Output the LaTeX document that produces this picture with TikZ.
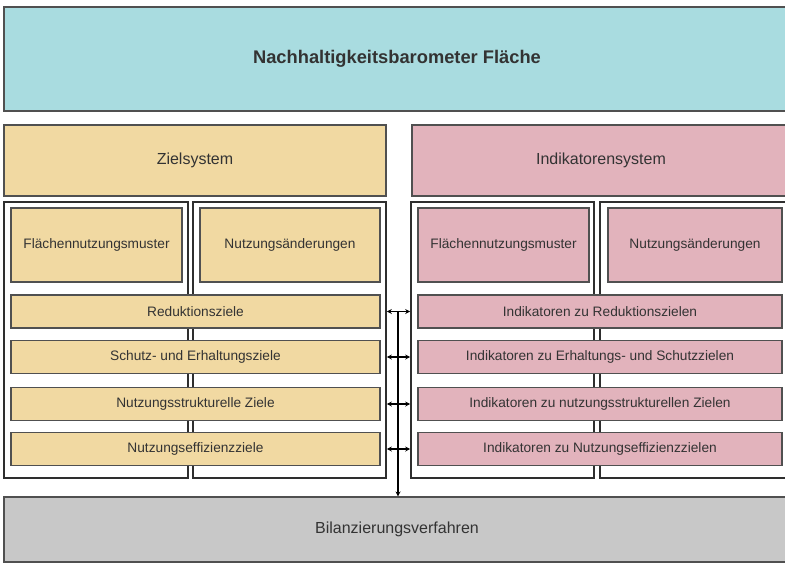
\documentclass[tikz,border=0pt]{standalone}
\usepackage{fontspec}
\setmainfont{Liberation Sans}
\usetikzlibrary{arrows.meta}
\definecolor{cyanbg}{HTML}{A9DCE0}
\definecolor{tanbg}{HTML}{F1D9A2}
\definecolor{pinkbg}{HTML}{E2B3BC}
\definecolor{graybg}{HTML}{C8C8C8}
\definecolor{edge}{HTML}{505050}
\definecolor{frameline}{HTML}{2E2E2E}
\definecolor{txt}{HTML}{333333}
\tikzset{
  box/.style={rectangle, draw=edge, line width=1.1pt, inner sep=0pt, text=txt, align=center},
  bigbox/.style={box, font=\fontsize{16}{19}\selectfont},
  smallbox/.style={box, font=\fontsize{13.7}{16}\selectfont},
  framebox/.style={rectangle, draw=frameline, line width=1.6pt, inner sep=0pt},
  link/.style={draw=black, line width=1.1pt, -{Stealth[length=5pt,width=5pt]}},
  dlink/.style={draw=black, line width=1.1pt, {Stealth[length=5pt,width=5pt]}-{Stealth[length=5pt,width=5pt]}}
}
\begin{document}
\begin{tikzpicture}[x=1pt,y=-1pt]
\clip (0,0) rectangle (785,563);
\fill[white] (0,0) rectangle (785,563);
% top
\node[box, fill=cyanbg, minimum width=786pt, minimum height=104pt, font=\bfseries\fontsize{18.3}{21}\selectfont] (top) at (397,59) {Nachhaltigkeitsbarometer Fläche};
% headings
\node[bigbox, fill=tanbg, minimum width=382pt, minimum height=71pt] (ziel) at (195,160.5) {Zielsystem};
\node[bigbox, fill=pinkbg, minimum width=378pt, minimum height=71pt] (ind) at (601,160.5) {Indikatorensystem};
% frames
\node[framebox, minimum width=184pt, minimum height=276pt] (fL1) at (96,340) {};
\node[framebox, minimum width=193pt, minimum height=276pt] (fL2) at (289.5,340) {};
\node[framebox, minimum width=183pt, minimum height=276pt] (fR1) at (502.5,340) {};
\node[framebox, minimum width=190pt, minimum height=276pt] (fR2) at (695,340) {};
% left inner
\node[smallbox, fill=tanbg, minimum width=171pt, minimum height=74pt] (lfl) at (96.5,245) {Flächennutzungsmuster};
\node[smallbox, fill=tanbg, minimum width=180pt, minimum height=74pt] (lnu) at (290,245) {Nutzungsänderungen};
\node[smallbox, fill=tanbg, minimum width=369pt, minimum height=33pt] (l1) at (195.5,311.5) {Reduktionsziele};
\node[smallbox, fill=tanbg, minimum width=369pt, minimum height=33pt] (l2) at (195.5,357) {Schutz- und Erhaltungsziele};
\node[smallbox, fill=tanbg, minimum width=369pt, minimum height=33pt] (l3) at (195.5,404) {Nutzungsstrukturelle Ziele};
\node[smallbox, fill=tanbg, minimum width=369pt, minimum height=33pt] (l4) at (195.5,449) {Nutzungseffizienzziele};
% right inner
\node[smallbox, fill=pinkbg, minimum width=171pt, minimum height=74pt] (rfl) at (503.5,245) {Flächennutzungsmuster};
\node[smallbox, fill=pinkbg, minimum width=174pt, minimum height=74pt] (rnu) at (695,245) {Nutzungsänderungen};
\node[smallbox, fill=pinkbg, minimum width=364pt, minimum height=33pt] (r1) at (600,311.5) {Indikatoren zu Reduktionszielen};
\node[smallbox, fill=pinkbg, minimum width=364pt, minimum height=33pt] (r2) at (600,357) {Indikatoren zu Erhaltungs- und Schutzzielen};
\node[smallbox, fill=pinkbg, minimum width=364pt, minimum height=33pt] (r3) at (600,404) {Indikatoren zu nutzungsstrukturellen Zielen};
\node[smallbox, fill=pinkbg, minimum width=364pt, minimum height=33pt] (r4) at (600,449) {Indikatoren zu Nutzungseffizienzzielen};
% bottom
\node[bigbox, fill=graybg, minimum width=786pt, minimum height=65pt] (bil) at (397,529.5) {Bilanzierungsverfahren};
% connectors
\coordinate (vtop) at (398,311.5);
\draw[link] (vtop) -- (vtop |- bil.north);
\draw[dlink] (fL2.east |- l1.center) -- (fR1.west |- r1.center);
\draw[dlink] (fL2.east |- l2.center) -- (fR1.west |- r2.center);
\draw[dlink] (fL2.east |- l3.center) -- (fR1.west |- r3.center);
\draw[dlink] (fL2.east |- l4.center) -- (fR1.west |- r4.center);
\end{tikzpicture}
\end{document}
